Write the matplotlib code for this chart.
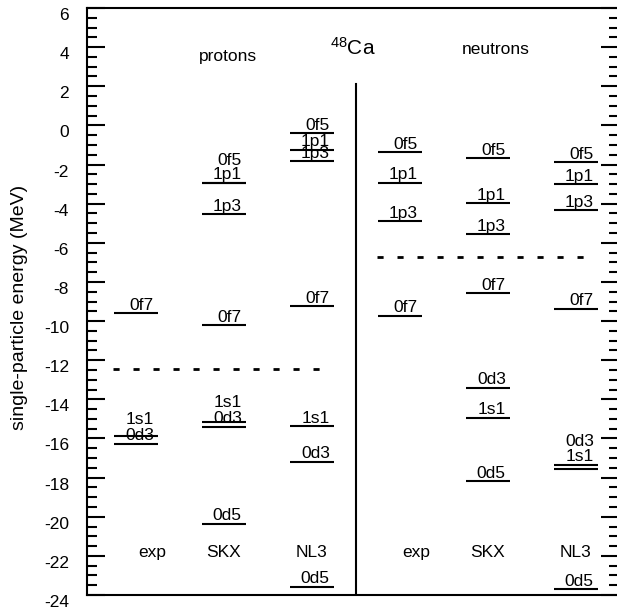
import matplotlib
matplotlib.use('Agg')
import numpy as np
import matplotlib.pyplot as plt
import matplotlib.transforms as mtransforms

plt.rcParams['font.family'] = ['Liberation Sans', 'DejaVu Sans']
plt.rcParams['axes.unicode_minus'] = False
plt.rcParams['mathtext.default'] = 'regular'

# model columns: protons (exp, SKX, NL3) then neutrons (exp, SKX, NL3)
columns = ['exp', 'SKX', 'NL3', 'exp', 'SKX', 'NL3']

proton_exp_levels = ['0f7', '1s1', '0d3']
proton_exp_energy = [-9.6, -15.88, -16.26]

proton_skx_levels = ['0f5', '1p1', '1p3', '0f7', '1s1', '0d3', '0d5']
proton_skx_energy = [-2.96, -2.92, -4.54, -10.2, -15.16, -15.4, -20.36]

proton_nl3_levels = ['0f5', '1p1', '1p3', '0f7', '1s1', '0d3', '0d5']
proton_nl3_energy = [-0.41, -1.25, -1.82, -9.23, -15.37, -17.2, -23.57]

neutron_exp_levels = ['0f5', '1p1', '1p3', '0f7']
neutron_exp_energy = [-1.37, -2.94, -4.91, -9.73]

neutron_skx_levels = ['0f5', '1p1', '1p3', '0f7', '0d3', '1s1', '0d5']
neutron_skx_energy = [-1.67, -3.98, -5.55, -8.58, -13.4, -14.94, -18.19]

neutron_nl3_levels = ['0f5', '1p1', '1p3', '0f7', '0d3', '1s1', '0d5']
neutron_nl3_energy = [-1.89, -3.02, -4.34, -9.38, -17.37, -17.54, -23.7]

# Fermi energies (dashed lines)
fermi_proton = -12.46
fermi_neutron = -6.73

level_sets = [
    (proton_exp_levels, proton_exp_energy),
    (proton_skx_levels, proton_skx_energy),
    (proton_nl3_levels, proton_nl3_energy),
    (neutron_exp_levels, neutron_exp_energy),
    (neutron_skx_levels, neutron_skx_energy),
    (neutron_nl3_levels, neutron_nl3_energy),
]

# labels lifted to avoid overlap (points)
label_nudge = {
    (0, '1s1'): 6.3,
    (1, '0f5'): 10.8,
    (1, '1s1'): 8.0,
    (5, '0d3'): 11.3,
    (5, '1s1'): 3.0,
}

fig = plt.figure(figsize=(6.17, 6.13), dpi=100)
ax = fig.add_axes([87 / 617, 18 / 613, 532 / 617, 587 / 613])

hw = 0.25
fs = 12.5
for i, (names, energies) in enumerate(level_sets):
    ax.hlines(energies, i - hw, i + hw, color='black', lw=1.5)
    for name, e in zip(names, energies):
        dy = label_nudge.get((i, name), 0)
        ax.annotate(name, xy=(i + hw, e), xytext=(-3, 2.5 + dy),
                    textcoords='offset points', ha='right', va='baseline',
                    fontsize=fs)

# Fermi levels
ax.plot([0 - 0.26, 2 + 0.16], [fermi_proton] * 2, color='black', lw=2,
        linestyle=(0, (2.2, 5.0)))
ax.plot([3 - 0.26, 5 + 0.16], [fermi_neutron] * 2, color='black', lw=2,
        linestyle=(0, (2.2, 5.0)))

# divider between protons and neutrons
divider_top = 2.1
ax.plot([2.5, 2.5], [-24, divider_top], color='black', lw=1.5)

# column names
label_shift = {'exp': 0.19}
for i, name in enumerate(columns):
    ax.text(i + label_shift.get(name, 0), -22.05, name, ha='center',
            va='baseline', fontsize=fs)

ax.text(1.045, 3.31, 'protons', ha='center', va='baseline', fontsize=fs)
ax.text(4.09, 3.65, 'neutrons', ha='center', va='baseline', fontsize=fs)
ax.text(2.46, 3.6, r'$^{48}$Ca', ha='center', va='baseline', fontsize=15)

ax.set_xlim(-0.557, 5.489)
ax.set_ylim(-24, 6)
ax.set_xticks([])
ax.set_yticks(np.arange(-24, 7, 2))
ax.set_yticks(np.arange(-24, 6.1, 0.5), minor=True)
ax.tick_params(axis='y', which='both', direction='in', left=True, right=True,
               width=1.5, labelsize=fs, pad=13)
ax.tick_params(axis='y', which='major', length=13)
ax.tick_params(axis='y', which='minor', length=7)

for side in ['left', 'top', 'bottom']:
    ax.spines[side].set_linewidth(1.5)
ax.spines['right'].set_visible(False)

offset = mtransforms.ScaledTranslation(0, -0.06, fig.dpi_scale_trans)
for lab in ax.get_yticklabels():
    lab.set_transform(lab.get_transform() + offset)

ax.set_ylabel('single-particle energy (MeV)', fontsize=14, va='center')
ax.yaxis.set_label_coords(-0.127, 0.49)

fig.savefig('out.png', dpi=100)
